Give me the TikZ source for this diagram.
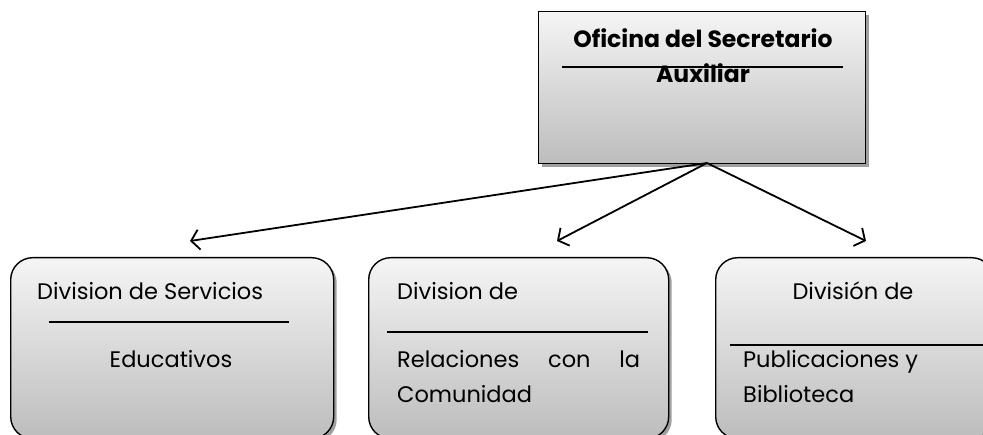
\documentclass[tikz,border=0pt]{standalone}
\usepackage{fontspec}
\setmainfont{Poppins}
\usetikzlibrary{arrows.meta,shadows}
\tikzset{
  boxbase/.style={draw=black, line width=1.4pt, top color=gray!8, bottom color=gray!52,
    drop shadow={shadow xshift=3pt, shadow yshift=-3pt, fill=gray!75, opacity=1},
    anchor=north west, inner sep=0pt},
  headbox/.style={boxbase},
  divbox/.style={boxbase, rounded corners=22pt},
  txt/.style={font=\fontsize{22.5}{27}\selectfont, inner sep=0pt},
  btxt/.style={font=\fontsize{23.5}{27}\selectfont\bfseries, inner sep=0pt},
  sep/.style={line width=1.2pt},
  link/.style={line width=1.8pt, -{Straight Barb[length=8pt,width=20pt,line width=1.8pt]}}
}
\begin{document}
\begin{tikzpicture}[x=1pt,y=-1pt]
\useasboundingbox (0,0) rectangle (983,435);
\clip (0,0) rectangle (983,435);
% top box
\node[headbox, minimum width=327pt, minimum height=152pt] (top) at (538,11) {};
\node[btxt, anchor=base] (t1) at (703,48) {Oficina del Secretario};
\draw[sep] (562,67) coordinate (l0a) -- (843,67) coordinate (l0b);
\node[btxt, anchor=base] (t2) at (703,83) {Auxiliar};
% bottom boxes
\node[divbox, minimum width=323pt, minimum height=181pt] (b1) at (10,257) {};
\node[divbox, minimum width=300pt, minimum height=181pt] (b2) at (368,257) {};
\node[divbox, minimum width=278pt, minimum height=181pt] (b3) at (715,257) {};
% box 1 text
\node[txt, anchor=base west] (a1) at (37,300) {Division de Servicios};
\draw[sep] (49,322) coordinate (l1a) -- (289,322) coordinate (l1b);
\node[txt, anchor=base] (a2) at (171,368) {Educativos};
% box 2 text
\node[txt, anchor=base west] (c1) at (397,300) {Division de};
\draw[sep] (387,332) coordinate (l2a) -- (648,332) coordinate (l2b);
\node[txt, anchor=base west] (c2) at (397,368) {\hbox to 243pt{Relaciones\hfill con\hfill la}};
\node[txt, anchor=base west] (c3) at (397,403) {Comunidad};
% box 3 text
\node[txt, anchor=base] (d1) at (853,300) {División de};
\draw[sep] (730,345) coordinate (l3a) -- (983,345) coordinate (l3b);
\node[txt, anchor=base west] (d2) at (743,368) {Publicaciones y};
\node[txt, anchor=base west] (d3) at (743,403) {Biblioteca};
% connectors
\coordinate (o) at (707,163);
\coordinate (e1) at (190,241);
\coordinate (e2) at (557,241);
\coordinate (e3) at (866,241);
\draw[link] (o) -- (e1);
\draw[link] (o) -- (e2);
\draw[link] (o) -- (e3);
\end{tikzpicture}
\end{document}
